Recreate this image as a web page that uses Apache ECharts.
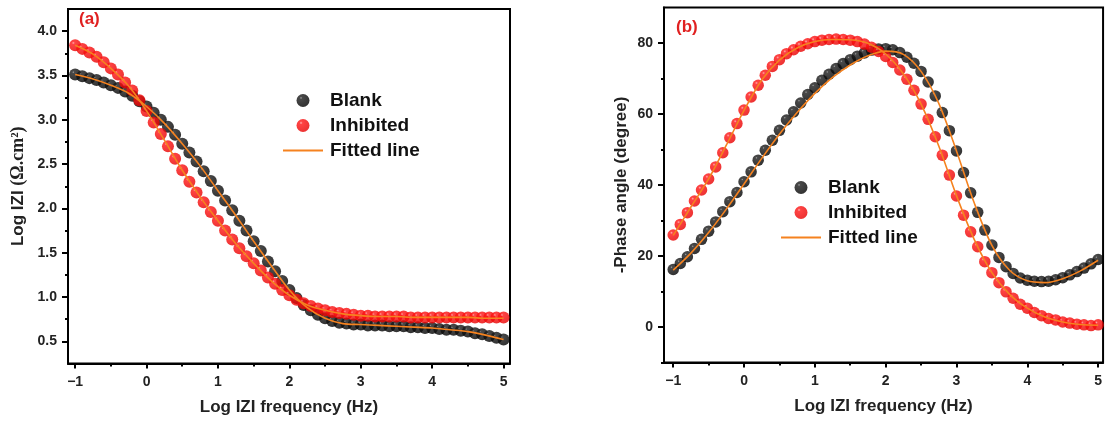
<!DOCTYPE html>
<html>
<head>
<meta charset="utf-8">
<script src="https://cdn.jsdelivr.net/npm/echarts@6/dist/echarts.min.js"></script>
<style>
  html, body { margin: 0; padding: 0; background: #fff; }
  #chart { width: 1105px; height: 423px; }
</style>
</head>
<body>
<div id="chart"></div>
<script>
// log frequency grid of the measured points
const freq = [-1.0, -0.9, -0.8, -0.7, -0.6, -0.5, -0.4, -0.3, -0.2, -0.1,
  0.0, 0.1, 0.2, 0.3, 0.4, 0.5, 0.6, 0.7, 0.8, 0.9,
  1.0, 1.1, 1.2, 1.3, 1.4, 1.5, 1.6, 1.7, 1.8, 1.9,
  2.0, 2.1, 2.2, 2.3, 2.4, 2.5, 2.6, 2.7, 2.8, 2.9,
  3.0, 3.1, 3.2, 3.3, 3.4, 3.5, 3.6, 3.7, 3.8, 3.9,
  4.0, 4.1, 4.2, 4.3, 4.4, 4.5, 4.6, 4.7, 4.8, 4.9, 5.0]

// (a) Log |Z|
const blankZ = [3.51, 3.49, 3.47, 3.45, 3.42, 3.39, 3.36, 3.32, 3.27, 3.21,
  3.15, 3.08, 3.00, 2.92, 2.83, 2.73, 2.63, 2.53, 2.42, 2.31,
  2.20, 2.09, 1.98, 1.86, 1.75, 1.63, 1.52, 1.40, 1.29, 1.18,
  1.08, 0.99, 0.91, 0.85, 0.80, 0.76, 0.73, 0.71, 0.70, 0.69,
  0.69, 0.68, 0.68, 0.68, 0.67, 0.67, 0.67, 0.66, 0.66, 0.65,
  0.65, 0.64, 0.63, 0.63, 0.62, 0.61, 0.59, 0.58, 0.56, 0.54, 0.52]
const inhibZ = [3.84, 3.80, 3.76, 3.71, 3.65, 3.58, 3.51, 3.42, 3.33, 3.22,
  3.10, 2.97, 2.84, 2.70, 2.56, 2.43, 2.30, 2.18, 2.07, 1.96,
  1.86, 1.75, 1.65, 1.55, 1.46, 1.38, 1.30, 1.22, 1.15, 1.08,
  1.02, 0.97, 0.93, 0.90, 0.87, 0.85, 0.83, 0.82, 0.81, 0.80,
  0.79, 0.79, 0.78, 0.78, 0.78, 0.78, 0.78, 0.77, 0.77, 0.77,
  0.77, 0.77, 0.77, 0.77, 0.77, 0.77, 0.77, 0.77, 0.77, 0.77, 0.77]

// (b) -phase angle
const blankPh = [16.2, 17.9, 19.8, 22.1, 24.7, 27.0, 29.6, 32.5, 35.3, 37.9,
  40.9, 43.7, 47.0, 49.8, 52.6, 55.4, 58.3, 60.6, 63.1, 65.5,
  67.4, 69.5, 71.2, 72.8, 74.2, 75.3, 76.3, 77.2, 78.0, 78.3,
  78.4, 78.1, 77.3, 76.0, 74.3, 72.0, 69.0, 65.1, 60.4, 55.3,
  49.6, 43.5, 37.8, 32.3, 27.3, 23.1, 19.6, 17.0, 15.1, 13.8,
  13.2, 12.9, 12.8, 12.9, 13.3, 13.9, 14.7, 15.6, 16.6, 17.8, 19.0]
const inhibPh = [25.9, 28.9, 32.2, 35.5, 38.6, 41.7, 45.1, 49.1, 53.3, 57.3,
  61.1, 64.8, 68.1, 70.9, 73.4, 75.3, 77.0, 78.1, 79.1, 79.8,
  80.4, 80.8, 81.0, 81.1, 81.0, 80.8, 80.4, 79.7, 78.8, 77.6,
  76.2, 74.5, 72.4, 69.8, 66.7, 62.8, 58.5, 53.6, 48.4, 42.8,
  36.9, 31.5, 26.8, 22.6, 18.4, 15.3, 12.5, 9.9, 8.1, 6.4,
  5.3, 4.1, 3.2, 2.4, 2.0, 1.4, 1.1, 0.8, 0.6, 0.4, 0.6]

// fitted curves, read at quarter-decade steps
const fitFreq = [-1, -0.75, -0.5, -0.25, 0, 0.25, 0.5, 0.75, 1, 1.25, 1.5, 1.75,
  2, 2.25, 2.5, 2.75, 3, 3.25, 3.5, 3.75, 4, 4.25, 4.5, 4.75, 5]
const blankZFit = [3.51, 3.46, 3.39, 3.30, 3.15, 2.96, 2.73, 2.48, 2.20, 1.92, 1.63, 1.35,
  1.08, 0.88, 0.76, 0.70, 0.69, 0.68, 0.67, 0.66, 0.65, 0.63, 0.61, 0.57, 0.52]
const inhibZFit = [3.84, 3.74, 3.58, 3.38, 3.10, 2.77, 2.43, 2.13, 1.86, 1.60, 1.38, 1.18,
  1.02, 0.91, 0.85, 0.81, 0.79, 0.78, 0.78, 0.77, 0.77, 0.77, 0.77, 0.76, 0.76]
const blankPhFit = [16.0, 20.8, 26.6, 33.2, 40.3, 47.5, 54.3, 60.4, 65.8, 70.3, 73.8, 76.4,
  77.7, 76.8, 72.0, 63.0, 49.6, 35.0, 23.0, 16.0, 13.0, 12.5, 13.6, 15.8, 18.8]
const inhibPhFit = [25.8, 33.8, 41.7, 51.2, 61.0, 69.6, 75.2, 78.6, 80.4, 81.0, 80.9, 79.9,
  76.9, 71.3, 62.8, 51.0, 37.0, 24.7, 15.3, 9.2, 5.3, 2.8, 1.4, 0.7, 0.5]

const xMajor = [-1, 0, 1, 2, 3, 4, 5]
const xMinor = [-0.5, 0.5, 1.5, 2.5, 3.5, 4.5]
const zMajor = [0.5, 1.0, 1.5, 2.0, 2.5, 3.0, 3.5, 4.0]
const zMinor = [0.75, 1.25, 1.75, 2.25, 2.75, 3.25, 3.75]
const phMajor = [0, 20, 40, 60, 80]
const phMinor = [-10, 10, 30, 50, 70]

const font = 'Liberation Sans, Arial, sans-serif'
const fitColor = '#f5821f'

const pairs = (xs, ys) => xs.map((x, i) => [x, ys[i]])

const blackBall = {
  type: 'radial', x: 0.35, y: 0.3, r: 0.7,
  colorStops: [
    { offset: 0, color: '#909090' },
    { offset: 0.14, color: '#1c1c1c' },
    { offset: 1, color: '#000' }
  ]
}
const redBall = {
  type: 'radial', x: 0.35, y: 0.3, r: 0.7,
  colorStops: [
    { offset: 0, color: '#ff9a9a' },
    { offset: 0.18, color: '#ff1414' },
    { offset: 1, color: '#e80000' }
  ]
}

function mainX(grid, min, max) {
  return {
    type: 'value', gridIndex: grid, min: min, max: max,
    name: 'Log IZI frequency (Hz)', nameLocation: 'middle', nameGap: 35,
    nameTextStyle: { fontFamily: font, fontWeight: 'bold', fontSize: 17, color: '#222' },
    axisLine: { onZero: false, lineStyle: { color: '#000', width: 2 } },
    axisTick: { customValues: xMajor, length: 5, lineStyle: { color: '#000', width: 2 } },
    axisLabel: {
      customValues: xMajor, margin: 12,
      fontFamily: font, fontWeight: 'bold', fontSize: 14, color: '#222',
      formatter: v => (v < 0 ? '\u2212' + (-v) : String(v))
    },
    splitLine: { show: false }
  }
}

function minorAxis(grid, min, max, ticks) {
  return {
    type: 'value', gridIndex: grid, min: min, max: max, offset: 0,
    axisLine: { show: false, onZero: false },
    axisTick: { customValues: ticks, length: 3, lineStyle: { color: '#000', width: 2 } },
    axisLabel: { show: false },
    splitLine: { show: false }
  }
}

const legendNames = ['Blank', 'Inhibited', 'Fitted line']
const lineIcon = 'path://M0,0L40,0L40,2L0,2Z'
const legendData = legendNames.map(n => (n === 'Fitted line' ? { name: n, icon: lineIcon } : { name: n }))

const chart = echarts.init(document.getElementById('chart'))

chart.setOption({
  backgroundColor: '#fff',
  animation: false,
  title: [
    { text: '(a)', left: 79, top: 11, padding: 0,
      textStyle: { fontFamily: font, fontWeight: 'bold', fontSize: 17, color: '#e02020' } },
    { text: '(b)', left: 676, top: 19, padding: 0,
      textStyle: { fontFamily: font, fontWeight: 'bold', fontSize: 17, color: '#e02020' } }
  ],
  legend: [
    {
      left: 283, top: 91, orient: 'vertical', padding: 0,
      itemWidth: 40, itemHeight: 13, itemGap: 6,
      data: legendData,
      textStyle: { fontFamily: font, fontWeight: 'bold', fontSize: 19, color: '#111', padding: [0, 0, 0, 2] },
      selectedMode: false
    },
    {
      left: 781, top: 178, orient: 'vertical', padding: 0,
      itemWidth: 40, itemHeight: 13, itemGap: 6,
      data: legendData,
      textStyle: { fontFamily: font, fontWeight: 'bold', fontSize: 19, color: '#111', padding: [0, 0, 0, 2] },
      selectedMode: false
    }
  ],
  grid: [
    { left: 68, top: 9, width: 442, height: 354.5, show: true, borderColor: '#000', borderWidth: 2 },
    { left: 664, top: 7.5, width: 440, height: 355, show: true, borderColor: '#000', borderWidth: 2 }
  ],
  xAxis: [
    mainX(0, -1.1, 5.09),
    Object.assign(minorAxis(0, -1.1, 5.09, xMinor), { position: 'bottom' }),
    mainX(1, -1.13, 5.07),
    Object.assign(minorAxis(1, -1.13, 5.07, xMinor), { position: 'bottom' })
  ],
  yAxis: [
    {
      type: 'value', gridIndex: 0, min: 0.25, max: 4.25,
      name: 'Log IZI {s|(Ω.cm²)}', nameLocation: 'middle', nameGap: 41,
      nameTextStyle: {
        fontFamily: font, fontWeight: 'bold', fontSize: 17, color: '#222',
        rich: { s: { fontFamily: 'Liberation Serif, serif', fontWeight: 'bold', fontSize: 18, color: '#222' } }
      },
      axisLine: { onZero: false, lineStyle: { color: '#000', width: 2 } },
      axisTick: { customValues: zMajor, length: 6, lineStyle: { color: '#000', width: 2 } },
      axisLabel: {
        customValues: zMajor, margin: 11,
        fontFamily: font, fontWeight: 'bold', fontSize: 14, color: '#222',
        formatter: v => v.toFixed(1)
      },
      splitLine: { show: false }
    },
    Object.assign(minorAxis(0, 0.25, 4.25, zMinor), { position: 'left' }),
    {
      type: 'value', gridIndex: 1, min: -10, max: 90,
      name: '-Phase angle (degree)', nameLocation: 'middle', nameGap: 34,
      nameTextStyle: { fontFamily: font, fontWeight: 'bold', fontSize: 17, color: '#222' },
      axisLine: { onZero: false, lineStyle: { color: '#000', width: 2 } },
      axisTick: { customValues: phMajor, length: 6, lineStyle: { color: '#000', width: 2 } },
      axisLabel: {
        customValues: phMajor, margin: 11,
        fontFamily: font, fontWeight: 'bold', fontSize: 14, color: '#222'
      },
      splitLine: { show: false }
    },
    Object.assign(minorAxis(1, -10, 90, phMinor), { position: 'left' })
  ],
  series: [
    { name: 'Blank', type: 'scatter', xAxisIndex: 0, yAxisIndex: 0, symbolSize: 12,
      itemStyle: { color: blackBall }, data: pairs(freq, blankZ) },
    { name: 'Inhibited', type: 'scatter', xAxisIndex: 0, yAxisIndex: 0, symbolSize: 12,
      itemStyle: { color: redBall }, data: pairs(freq, inhibZ) },
    { name: 'Fitted line', type: 'line', xAxisIndex: 0, yAxisIndex: 0, smooth: 0.3,
      symbol: 'none', lineStyle: { color: fitColor, width: 1.6 }, itemStyle: { color: fitColor },
      data: pairs(fitFreq, blankZFit) },
    { name: 'Fitted line', type: 'line', xAxisIndex: 0, yAxisIndex: 0, smooth: 0.3,
      symbol: 'none', lineStyle: { color: fitColor, width: 1.6 }, itemStyle: { color: fitColor },
      data: pairs(fitFreq, inhibZFit) },

    { name: 'Blank', type: 'scatter', xAxisIndex: 2, yAxisIndex: 2, symbolSize: 11.5,
      itemStyle: { color: blackBall }, data: pairs(freq, blankPh) },
    { name: 'Inhibited', type: 'scatter', xAxisIndex: 2, yAxisIndex: 2, symbolSize: 11.5,
      itemStyle: { color: redBall }, data: pairs(freq, inhibPh) },
    { name: 'Fitted line', type: 'line', xAxisIndex: 2, yAxisIndex: 2, smooth: 0.3,
      symbol: 'none', lineStyle: { color: fitColor, width: 1.6 }, itemStyle: { color: fitColor },
      data: pairs(fitFreq, blankPhFit) },
    { name: 'Fitted line', type: 'line', xAxisIndex: 2, yAxisIndex: 2, smooth: 0.3,
      symbol: 'none', lineStyle: { color: fitColor, width: 1.6 }, itemStyle: { color: fitColor },
      data: pairs(fitFreq, inhibPhFit) }
  ]
})
</script>
</body>
</html>
